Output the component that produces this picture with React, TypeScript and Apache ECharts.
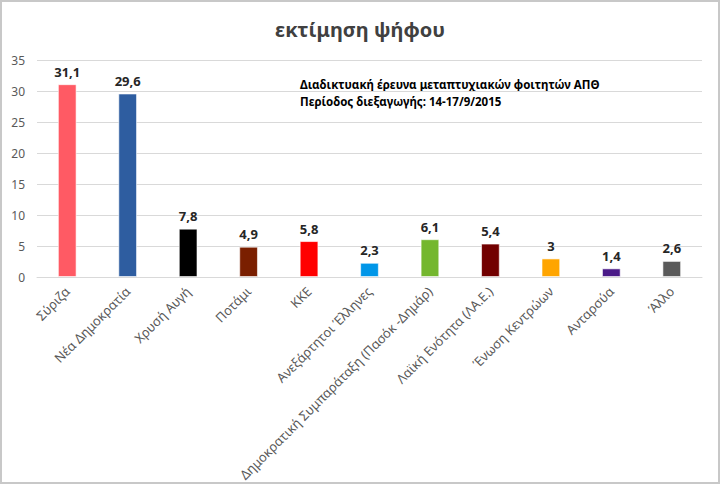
import React, { useEffect, useRef } from "react";
import * as echarts from "echarts";

const categories = [
  "Σύριζα",
  "Νέα Δημοκρατία",
  "Χρυσή Αυγή",
  "Ποτάμι",
  "ΚΚΕ",
  "Ανεξάρτητοι Έλληνες",
  "Δημοκρατική Συμπαράταξη (Πασόκ -Δημάρ)",
  "Λαϊκή Ενότητα (ΛΑ.Ε.)",
  "Ένωση Κεντρώων",
  "Ανταρσύα",
  "Άλλο",
];
const values = [31.1, 29.6, 7.8, 4.9, 5.8, 2.3, 6.1, 5.4, 3, 1.4, 2.6];
const colors = [
  "#FF5A64",
  "#2E5DA0",
  "#000000",
  "#7A1F00",
  "#FF0000",
  "#0096E8",
  "#74B72E",
  "#720000",
  "#FFA500",
  "#4A1A88",
  "#5A5A5A",
];
const titleText = "εκτίμηση ψήφου";
const noteLines = [
  "Διαδικτυακή έρευνα μεταπτυχιακών φοιτητών ΑΠΘ",
  "Περίοδος διεξαγωγής: 14-17/9/2015",
];

const FONT = "'Noto Sans', 'DejaVu Sans', sans-serif";

export default function App() {
  const ref = useRef<HTMLDivElement>(null);
  useEffect(() => {
    if (!ref.current) return;
    const chart = echarts.init(ref.current, null, { renderer: "svg" });
    chart.setOption({
      animation: false,
      backgroundColor: "#ffffff",
      title: {
        text: titleText,
        left: "center",
        top: 14,
        textStyle: { fontFamily: FONT, fontSize: 20, fontWeight: "bold", color: "#404040" },
      },
      graphic: [
        {
          type: "text",
          left: 300,
          top: 76,
          style: {
            text: noteLines.join("\n"),
            font: `bold 11.5px ${FONT}`,
            lineHeight: 17,
            fill: "#000000",
          },
        },
      ],
      grid: { left: 37, right: 18, top: 60, bottom: 206, containLabel: false },
      xAxis: {
        type: "category",
        data: categories,
        axisLine: { lineStyle: { color: "#d9d9d9" } },
        axisTick: { show: false },
        axisLabel: {
          rotate: 45,
          interval: 0,
          fontFamily: FONT,
          fontSize: 13,
          color: "#595959",
          margin: 12,
        },
      },
      yAxis: {
        type: "value",
        min: 0,
        max: 35,
        interval: 5,
        axisLine: { show: false },
        axisTick: { show: false },
        splitLine: { lineStyle: { color: "#d9d9d9" } },
        axisLabel: { fontFamily: FONT, fontSize: 12, color: "#595959", margin: 12 },
      },
      series: [
        {
          type: "bar",
          data: values.map((v, i) => ({
            value: v,
            itemStyle: { color: colors[i] },
          })),
          barWidth: "31%",
          itemStyle: { borderColor: "rgba(255,255,255,0.6)", borderWidth: 1 },
          label: {
            show: true,
            position: "top",
            distance: 6,
            fontFamily: FONT,
            fontSize: 13,
            fontWeight: "bold",
            color: "#262626",
            formatter: (p: any) => String(p.value).replace(".", ","),
          },
        },
      ],
    });
    return () => chart.dispose();
  }, []);
  return (
    <div
      style={{
        position: "fixed",
        left: 0,
        top: 0,
        width: 720,
        height: 484,
        background: "#fff",
      }}
    >
      <div ref={ref} style={{ position: "absolute", left: 0, top: 0, width: 720, height: 484 }} />
      <div
        style={{
          position: "absolute",
          left: 0,
          top: 0,
          width: 720,
          height: 484,
          boxSizing: "border-box",
          border: "2px solid #c8c8c8",
          pointerEvents: "none",
        }}
      />
    </div>
  );
}
